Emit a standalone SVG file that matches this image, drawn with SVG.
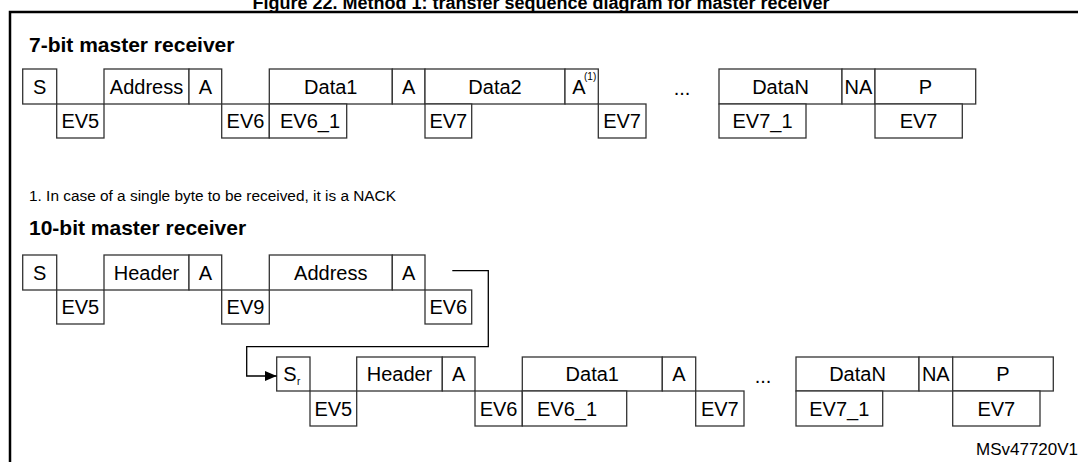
<svg xmlns="http://www.w3.org/2000/svg" width="1078" height="462" viewBox="0 0 1078 462">
<style>
.b{fill:#fff;stroke:#333;stroke-width:1.3}
.t{font-family:"Liberation Sans",Arial,sans-serif;font-size:20px;fill:#000;text-anchor:middle}
.h{font-family:"Liberation Sans",Arial,sans-serif;font-size:21px;font-weight:bold;fill:#000}
.ti{font-family:"Liberation Sans",Arial,sans-serif;font-size:18px;font-weight:bold;fill:#000;text-anchor:middle}
.s{font-family:"Liberation Sans",Arial,sans-serif;font-size:15.4px;fill:#000}
.sm{font-family:"Liberation Sans",Arial,sans-serif;font-size:10px;fill:#000}
.c{fill:none;stroke:#000;stroke-width:1.3}
</style>
<defs>
<marker id="ah" markerWidth="12" markerHeight="10" refX="12" refY="5" orient="auto" markerUnits="userSpaceOnUse">
<path d="M0,0 L12,5 L0,10 z" fill="#000"/>
</marker>
</defs>
<rect width="1078" height="462" fill="#fff"/>
<text class="ti" x="541" y="9">Figure 22. Method 1: transfer sequence diagram for master receiver</text>
<path d="M10,462 V12 H1078" fill="none" stroke="#000" stroke-width="2.5"/>
<text class="h" x="29" y="52">7-bit master receiver</text>
<text class="s" x="29" y="201">1. In case of a single byte to be received, it is a NACK</text>
<text class="h" x="29" y="235">10-bit master receiver</text>
<text class="s" x="976" y="455" style="font-size:17px">MSv47720V1</text>

<!-- Row 1: 7-bit -->
<g id="r1-S"><rect class="b" x="22.7" y="69" width="34" height="35"/><text class="t" x="39.7" y="94">S</text></g>
<g id="r1-EV5"><rect class="b" x="56.7" y="104" width="47.3" height="34"/><text class="t" x="80.3" y="128">EV5</text></g>
<g id="r1-Address"><rect class="b" x="104" y="69" width="85" height="35"/><text class="t" x="146.5" y="94">Address</text></g>
<g id="r1-A1"><rect class="b" x="189" y="69" width="32.7" height="35"/><text class="t" x="205.3" y="94">A</text></g>
<g id="r1-EV6"><rect class="b" x="221.7" y="104" width="47.6" height="34"/><text class="t" x="245.5" y="128">EV6</text></g>
<g id="r1-Data1"><rect class="b" x="269.3" y="69" width="123" height="35"/><text class="t" x="330.8" y="94">Data1</text></g>
<g id="r1-EV6_1"><rect class="b" x="269.3" y="104" width="77.4" height="34"/><text class="t" x="310" y="128">EV6_1</text></g>
<g id="r1-A2"><rect class="b" x="392.3" y="69" width="32.7" height="35"/><text class="t" x="408.6" y="94">A</text></g>
<g id="r1-Data2"><rect class="b" x="425" y="69" width="140" height="35"/><text class="t" x="495" y="94">Data2</text></g>
<g id="r1-EV7a"><rect class="b" x="425" y="104" width="46.7" height="34"/><text class="t" x="448.3" y="128">EV7</text></g>
<g id="r1-A3"><rect class="b" x="565" y="69" width="33.3" height="35"/><text class="t" x="579" y="94">A</text><text class="sm" x="584" y="80">(1)</text></g>
<g id="r1-EV7b"><rect class="b" x="598.3" y="104" width="47.7" height="34"/><text class="t" x="622.1" y="128">EV7</text></g>
<text class="t" x="682" y="95">...</text>
<g id="r1-DataN"><rect class="b" x="719" y="69" width="123" height="35"/><text class="t" x="780.5" y="94">DataN</text></g>
<g id="r1-EV7_1"><rect class="b" x="719" y="104" width="87" height="34"/><text class="t" x="762.5" y="128">EV7_1</text></g>
<g id="r1-NA"><rect class="b" x="842" y="69" width="33" height="35"/><text class="t" x="858.5" y="94">NA</text></g>
<g id="r1-P"><rect class="b" x="875" y="69" width="100.7" height="35"/><text class="t" x="925.3" y="94">P</text></g>
<g id="r1-EV7c"><rect class="b" x="875" y="104" width="87.3" height="34"/><text class="t" x="918.6" y="128">EV7</text></g>

<!-- Row 2: 10-bit first part -->
<g id="r2-S"><rect class="b" x="22.7" y="255" width="34" height="35"/><text class="t" x="39.7" y="280">S</text></g>
<g id="r2-EV5"><rect class="b" x="56.7" y="290" width="47.3" height="34"/><text class="t" x="80.3" y="314">EV5</text></g>
<g id="r2-Header"><rect class="b" x="104" y="255" width="85" height="35"/><text class="t" x="146.5" y="280">Header</text></g>
<g id="r2-A1"><rect class="b" x="189" y="255" width="32.7" height="35"/><text class="t" x="205.3" y="280">A</text></g>
<g id="r2-EV9"><rect class="b" x="221.7" y="290" width="47.6" height="34"/><text class="t" x="245.5" y="314">EV9</text></g>
<g id="r2-Address"><rect class="b" x="269.3" y="255" width="123" height="35"/><text class="t" x="330.8" y="280">Address</text></g>
<g id="r2-A2"><rect class="b" x="392.3" y="255" width="32.7" height="35"/><text class="t" x="408.6" y="280">A</text></g>
<g id="r2-EV6"><rect class="b" x="425" y="290" width="46.7" height="34"/><text class="t" x="448.3" y="314">EV6</text></g>

<!-- Row 3: 10-bit second part -->
<g id="r3-Sr"><rect class="b" x="276.7" y="357" width="33.3" height="34"/><text class="t" x="290" y="381">S</text><text class="sm" x="297" y="385">r</text></g>
<g id="r3-EV5"><rect class="b" x="310" y="391" width="46.7" height="35"/><text class="t" x="333.3" y="415.5">EV5</text></g>
<g id="r3-Header"><rect class="b" x="356.7" y="357" width="85.6" height="34"/><text class="t" x="399.5" y="381">Header</text></g>
<g id="r3-A1"><rect class="b" x="442.3" y="357" width="32.7" height="34"/><text class="t" x="458.6" y="381">A</text></g>
<g id="r3-EV6"><rect class="b" x="475" y="391" width="47.3" height="35"/><text class="t" x="498.6" y="415.5">EV6</text></g>
<g id="r3-Data1"><rect class="b" x="522.3" y="357" width="140" height="34"/><text class="t" x="592.3" y="381">Data1</text></g>
<g id="r3-EV6_1"><rect class="b" x="522.3" y="391" width="104.4" height="35"/><text class="t" x="567" y="415.5">EV6_1</text></g>
<g id="r3-A2"><rect class="b" x="662.3" y="357" width="33.4" height="34"/><text class="t" x="679" y="381">A</text></g>
<g id="r3-EV7a"><rect class="b" x="695.7" y="391" width="48.3" height="35"/><text class="t" x="719.8" y="415.5">EV7</text></g>
<text class="t" x="763" y="383">...</text>
<g id="r3-DataN"><rect class="b" x="796" y="357" width="123" height="34"/><text class="t" x="857.5" y="381">DataN</text></g>
<g id="r3-EV7_1"><rect class="b" x="796" y="391" width="86.7" height="35"/><text class="t" x="839.3" y="415.5">EV7_1</text></g>
<g id="r3-NA"><rect class="b" x="919" y="357" width="33.7" height="34"/><text class="t" x="935.8" y="381">NA</text></g>
<g id="r3-P"><rect class="b" x="952.7" y="357" width="100.6" height="34"/><text class="t" x="1003" y="381">P</text></g>
<g id="r3-EV7b"><rect class="b" x="952.7" y="391" width="87.3" height="35"/><text class="t" x="996.3" y="415.5">EV7</text></g>

<g id="connectors">
<path class="c" d="M452.3,270.7 H488.3 V346.7 H246.7 V376 H276.7" marker-end="url(#ah)"/>
</g>
</svg>
